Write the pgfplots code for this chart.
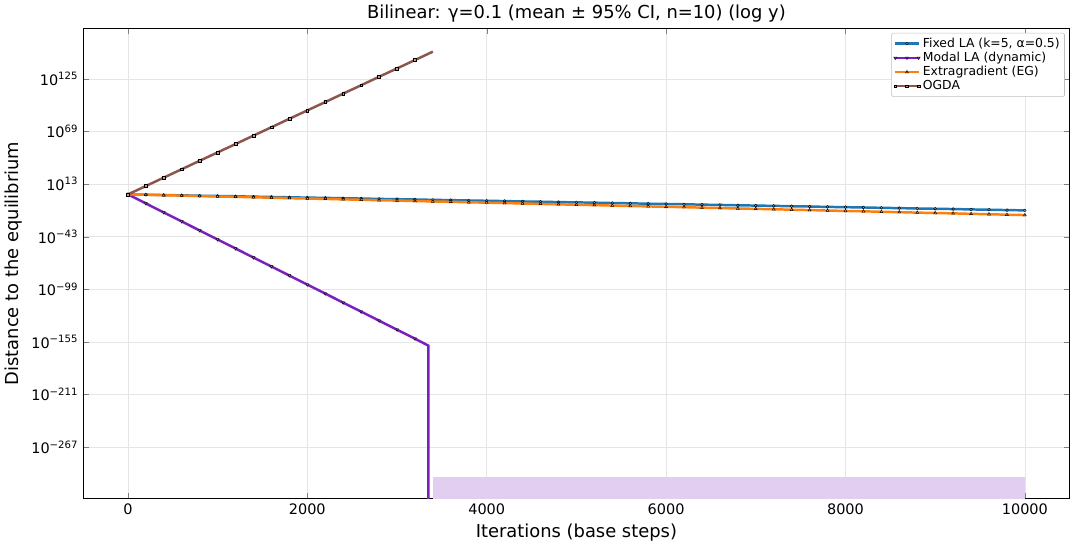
\documentclass[border=0pt]{standalone}
\usepackage{pgfplots}
\pgfplotsset{compat=1.18}
\usepackage{fontspec}
\setmainfont{DejaVu Sans}
\definecolor{cb}{HTML}{1F77B4}
\definecolor{cp}{HTML}{7B1FBF}
\definecolor{co}{HTML}{FF7F0E}
\definecolor{cbr}{HTML}{8C564B}
\begin{document}
\begin{tikzpicture}
\begin{axis}[
  scale only axis, width=717pt, height=342pt,
  xmin=-500, xmax=10500, ymin=-322, ymax=179,
  unbounded coords=jump, clip=true,
  ytick={-267,-211,-155,-99,-43,13,69,125},
  yticklabels={10\textsuperscript{−267},10\textsuperscript{−211},10\textsuperscript{−155},10\textsuperscript{−99},10\textsuperscript{−43},10\textsuperscript{13},10\textsuperscript{69},10\textsuperscript{125}},
  xtick={0,2000,4000,6000,8000,10000},
  scaled x ticks=false,
  xticklabel style={/pgf/number format/1000 sep=, /pgf/number format/assume math mode=true},
  tick label style={font=\fontsize{10.5}{12}\selectfont},
  grid=major, grid style={gray!20},
  xlabel={Iterations (base steps)}, ylabel={Distance to the equilibrium},
  label style={font=\fontsize{13}{15}\selectfont},
  title={Bilinear: γ=0.1  (mean ± 95\% CI, n=10) (log y)},
  title style={font=\fontsize{13}{15}\selectfont, yshift=-5pt},
  legend pos=north east,
  legend style={font=\fontsize{9}{11}\selectfont, draw=gray!50, rounded corners=1pt, inner sep=1.5pt, row sep=-2pt, at={(0.995,0.99)}},
  legend cell align=left,
  legend image code/.code={\draw[mark repeat=2,mark phase=2] plot coordinates {(0cm,0cm)(0.3cm,0cm)(0.6cm,0cm)};},
  every axis plot/.append style={line width=1.8pt},
]
\fill[cp!22] (axis cs:3400,-322) rectangle (axis cs:10000,-299);
\addplot[cb, mark=*, mark size=1pt, mark options={solid, fill=cb!60, draw=black, line width=0.35pt}] coordinates {
(0,2.0)(200,1.7)(400,1.3)(600,1.0)(800,0.6)(1000,0.3)(1200,0.0)(1400,-0.4)(1600,-0.7)(1800,-1.1)(2000,-1.4)(2200,-1.7)(2400,-2.1)(2600,-2.4)(2800,-2.8)(3000,-3.1)(3200,-3.4)(3400,-3.8)(3600,-4.1)(3800,-4.5)(4000,-4.8)(4200,-5.1)(4400,-5.5)(4600,-5.8)(4800,-6.2)(5000,-6.5)(5200,-6.8)(5400,-7.2)(5600,-7.5)(5800,-7.9)(6000,-8.2)(6200,-8.5)(6400,-8.9)(6600,-9.2)(6800,-9.6)(7000,-9.9)(7200,-10.2)(7400,-10.6)(7600,-10.9)(7800,-11.3)(8000,-11.6)(8200,-11.9)(8400,-12.3)(8600,-12.6)(8800,-13.0)(9000,-13.3)(9200,-13.6)(9400,-14.0)(9600,-14.3)(9800,-14.7)(10000,-15.0)};
\addlegendentry{Fixed LA (k=5, α=0.5)}
\addplot[cp, mark=triangle*, mark size=1.2pt, mark options={solid, rotate=180, fill=cp!60, draw=black, line width=0.35pt}, mark indices={1,...,17}] coordinates {
(0,2)(200,-7.6)(400,-17.2)(600,-26.8)(800,-36.4)(1000,-46)(1200,-55.6)(1400,-65.2)(1600,-74.8)(1800,-84.4)(2000,-94)(2200,-103.6)(2400,-113.2)(2600,-122.8)(2800,-132.4)(3000,-142)(3200,-151.6)(3350,-159)(3350,-330)};
\addlegendentry{Modal LA (dynamic)}
\addplot[co, mark=triangle*, mark size=1.2pt, mark options={solid, fill=co!60, draw=black, line width=0.35pt}] coordinates {
(0,2.0)(200,1.6)(400,1.1)(600,0.7)(800,0.2)(1000,-0.2)(1200,-0.6)(1400,-1.1)(1600,-1.5)(1800,-2.0)(2000,-2.4)(2200,-2.8)(2400,-3.3)(2600,-3.7)(2800,-4.2)(3000,-4.6)(3200,-5.0)(3400,-5.5)(3600,-5.9)(3800,-6.4)(4000,-6.8)(4200,-7.2)(4400,-7.7)(4600,-8.1)(4800,-8.6)(5000,-9.0)(5200,-9.4)(5400,-9.9)(5600,-10.3)(5800,-10.8)(6000,-11.2)(6200,-11.6)(6400,-12.1)(6600,-12.5)(6800,-13.0)(7000,-13.4)(7200,-13.8)(7400,-14.3)(7600,-14.7)(7800,-15.2)(8000,-15.6)(8200,-16.0)(8400,-16.5)(8600,-16.9)(8800,-17.4)(9000,-17.8)(9200,-18.2)(9400,-18.7)(9600,-19.1)(9800,-19.6)(10000,-20.0)};
\addlegendentry{Extragradient (EG)}
\addplot[cbr, mark=square*, mark size=1pt, mark options={solid, fill=cbr!60, draw=black, line width=0.35pt}, mark indices={1,...,17}] coordinates {
(0,2)(200,10.9)(400,19.9)(600,28.8)(800,37.8)(1000,46.7)(1200,55.6)(1400,64.6)(1600,73.5)(1800,82.5)(2000,91.4)(2200,100.3)(2400,109.3)(2600,118.2)(2800,127.2)(3000,136.1)(3200,145.0)(3400,154.0)};
\addlegendentry{OGDA}
\end{axis}
\end{tikzpicture}
\end{document}
